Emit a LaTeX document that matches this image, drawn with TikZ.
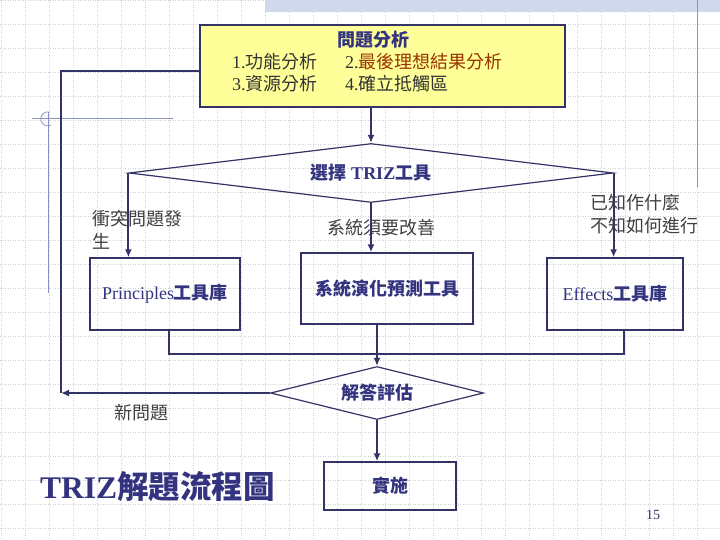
\documentclass[tikz,border=0pt]{standalone}
\usepackage{fontspec}
\setmainfont{Liberation Serif}
\newfontfamily\cjk{Noto Sans CJK TC}
\usetikzlibrary{arrows.meta, positioning, shapes.geometric}

\definecolor{ink}{HTML}{333366}
\definecolor{titleblue}{HTML}{333380}
\definecolor{notered}{HTML}{993300}
\definecolor{labelgray}{HTML}{404040}
\definecolor{paleyellow}{HTML}{FFFF99}
\definecolor{gridgray}{HTML}{D2D2D2}
\definecolor{decoblue}{HTML}{8A93BF}
\definecolor{bandblue}{HTML}{D0D9EC}

\newcommand\lblfont{\fontsize{18bp}{23bp}\selectfont}
\newcommand\bigfont{\fontsize{31.5bp}{36bp}\selectfont}

\begin{document}
\begin{tikzpicture}[
  x=1bp, y=-1bp,
  tool/.style={draw=ink, line width=1.4bp, inner sep=0pt, font=\lblfont, text=titleblue},
  decide/.style={diamond, draw=ink, line width=1.2bp, inner sep=0pt, font=\lblfont, text=titleblue},
  item/.style={inner sep=0pt, font=\lblfont, text=black!80},
  note/.style={inner sep=0pt, align=left, font=\lblfont\cjk, text=labelgray},
  gridline/.style={gridgray, line width=0.6bp, dash pattern=on 1bp off 1.5bp},
  arr/.style={-{Latex[length=8bp, width=7bp]}, draw=ink, line width=2bp},
  link/.style={draw=ink, line width=1.4bp}
]
\useasboundingbox[fill=white] (0,0) rectangle (720,540);

% slide background
\foreach \gx in {1,25,...,720} \draw[gridline] (\gx,0) -- (\gx,540);
\foreach \gy in {0,24,...,540} \draw[gridline] (0,\gy) -- (720,\gy);
\fill[bandblue] (265,0) rectangle (720,12);
\draw[decoblue, line width=1bp] (697,0) -- (697,187);
\draw[decoblue, line width=1bp] (48,112) -- (48,293);
\draw[decoblue, line width=1bp] (32,119) -- (173,119);
\draw[decoblue, line width=0.8bp] (49,112) arc[start angle=80, end angle=300, radius=7bp];

% problem analysis
\node[tool, fill=paleyellow, minimum width=365bp, minimum height=82bp] (prob) at (382.5,66) {};
\node[inner sep=0pt, font=\lblfont, text=titleblue] (probtitle) at (373,40) {\cjk\bfseries 問題分析};
\node[item, anchor=west] (func) at (232,62) {1.{\cjk 功能分析}};
\node[item, anchor=west] (ideal) at (345,62) {2.{\cjk\color{notered}最後理想結果分析}};
\node[item, anchor=west] (res) at (232,84) {3.{\cjk 資源分析}};
\node[item, anchor=west] (cont) at (345,84) {4.{\cjk 確立抵觸區}};

% tool choice
\node[decide, aspect=8, minimum width=484bp, minimum height=59bp] (sel) at (371,173) {{\cjk\bfseries 選擇} \textbf{TRIZ}{\cjk\bfseries 工具}};
\node[note, anchor=west] (confl) at (92,229.5) {衝突問題發\\生};
\node[note] (improve) at (381,228) {系統須要改善};
\node[note, anchor=west] (known) at (590,214.5) {已知作什麼\\不知如何進行};

\node[tool, minimum width=150bp, minimum height=72bp] (prin) at (165,294) {Principles{\cjk\bfseries 工具庫}};
\node[tool, minimum width=172bp, minimum height=71bp] (sys) at (387,288.5) {{\cjk\bfseries 系統演化預測工具}};
\node[tool, minimum width=136bp, minimum height=72bp] (eff) at (615,294) {Effects{\cjk\bfseries 工具庫}};

% evaluation
\node[decide, aspect=4, minimum width=213bp, minimum height=53bp] (eval) at (377,393) {{\cjk\bfseries 解答評估}};
\node[note] (newq) at (141,413) {新問題};
\node[tool, minimum width=132bp, minimum height=48bp] (impl) at (390,486) {{\cjk\bfseries 實施}};

\node[anchor=west, inner sep=0pt, font=\bigfont, text=titleblue] (title) at (40,487) {\textbf{TRIZ}{\cjk\bfseries 解題流程圖}};
\node[inner sep=0pt, font=\fontsize{14bp}{16bp}\selectfont, text=ink] (page) at (653,515) {15};

\draw[arr] (sel.north |- prob.south) -- (sel.north);
\draw[arr] (sel.west) -- (sel.west |- prin.north);
\draw[arr] (sel.south) -- (sel.south |- sys.north);
\draw[arr] (sel.east) -- (sel.east |- eff.north);

\coordinate (joinL) at (169,354);
\coordinate (joinR) at (624,354);
\draw[link] (joinL |- prin.south) -- (joinL) -- (joinR) -- (joinR |- eff.south);
\draw[arr] (eval.north |- sys.south) -- (eval.north);

\coordinate (loop) at (61,393);
\draw[arr] (eval.west) -- (loop);
\draw[link] (loop) |- ([yshift=-5bp]prob.west);
\draw[arr] (eval.south) -- (eval.south |- impl.north);
\end{tikzpicture}
\end{document}
